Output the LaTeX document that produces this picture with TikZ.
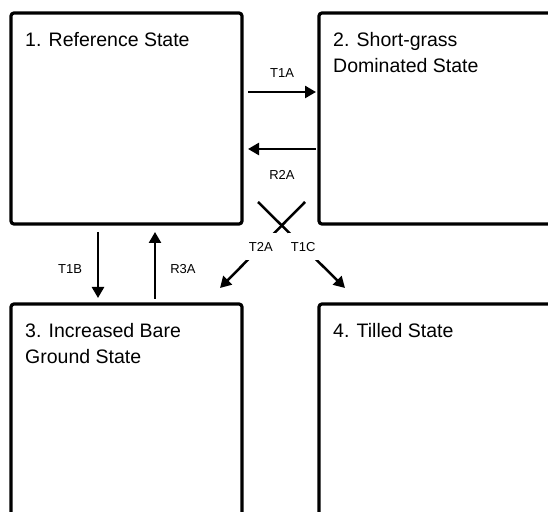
\documentclass[tikz,border=0pt]{standalone}
\usepackage{fontspec}
\setmainfont{Liberation Sans}
\usepackage{tikz}
\usetikzlibrary{arrows.meta}

\begin{document}
\begin{tikzpicture}[x=1pt, y=1pt,
    state/.style={draw=black, line width=3.2pt, rounded corners=3pt,
                  outer sep=0pt, inner sep=0pt},
    title/.style={anchor=north west, inner sep=0pt, align=left,
                  font=\fontsize{19.5}{26}\selectfont},
    lbl/.style={font=\fontsize{13}{15}\selectfont, inner sep=1pt},
    gap/.style={lbl, fill=white, inner xsep=3pt, inner ysep=9pt},
    arr/.style={-{Triangle[length=11pt, width=12pt]}, line width=2.5pt}]
  \clip (0,0) rectangle (548,511);
  % the four states
  \node[state, minimum width=231pt, minimum height=211pt] (s1) at (126.5,392.5) {};
  \node[state, minimum width=245pt, minimum height=211pt] (s2) at (441.5,392.5) {};
  \node[state, minimum width=231pt, minimum height=221pt] (s3) at (126.5,96.5) {};
  \node[state, minimum width=245pt, minimum height=221pt] (s4) at (441.5,96.5) {};
  \node[title] (t1) at ([shift={(14,-19)}]s1.north west) {1. Reference State};
  \node[title] (t2) at ([shift={(14,-19)}]s2.north west) {2. Short-grass\\Dominated State};
  \node[title] (t3) at ([shift={(14,-19)}]s3.north west) {3. Increased Bare\\Ground State};
  \node[title] (t4) at ([shift={(14,-19)}]s4.north west) {4. Tilled State};
  % transitions
  \draw[arr] ([shift={(6,26.5)}]s1.east) -- node[lbl, yshift=19pt] {T1A} ([shift={(-3,26.5)}]s2.west);
  \draw[arr] ([shift={(-3,-30.5)}]s2.west) -- node[lbl, yshift=-26pt] {R2A} ([shift={(6,-30.5)}]s1.east);
  \draw[arr] ([shift={(-28.5,-8)}]s1.south) -- node[lbl, xshift=-28pt, yshift=-4pt] {T1B} ([shift={(-28.5,6)}]s3.north);
  \draw[arr] ([shift={(28.5,5)}]s3.north) -- node[lbl, xshift=28pt, yshift=-3.5pt] {R3A} ([shift={(28.5,-8)}]s1.south);
  \draw[arr] ([shift={(16,22)}]s1.south east) -- node[gap, pos=0.52] {T1C} ([shift={(26,16)}]s4.north west);
  \draw[arr] ([shift={(-14,22)}]s2.south west) -- node[gap, pos=0.52] {T2A} ([shift={(-22,16)}]s3.north east);
\end{tikzpicture}
\end{document}
